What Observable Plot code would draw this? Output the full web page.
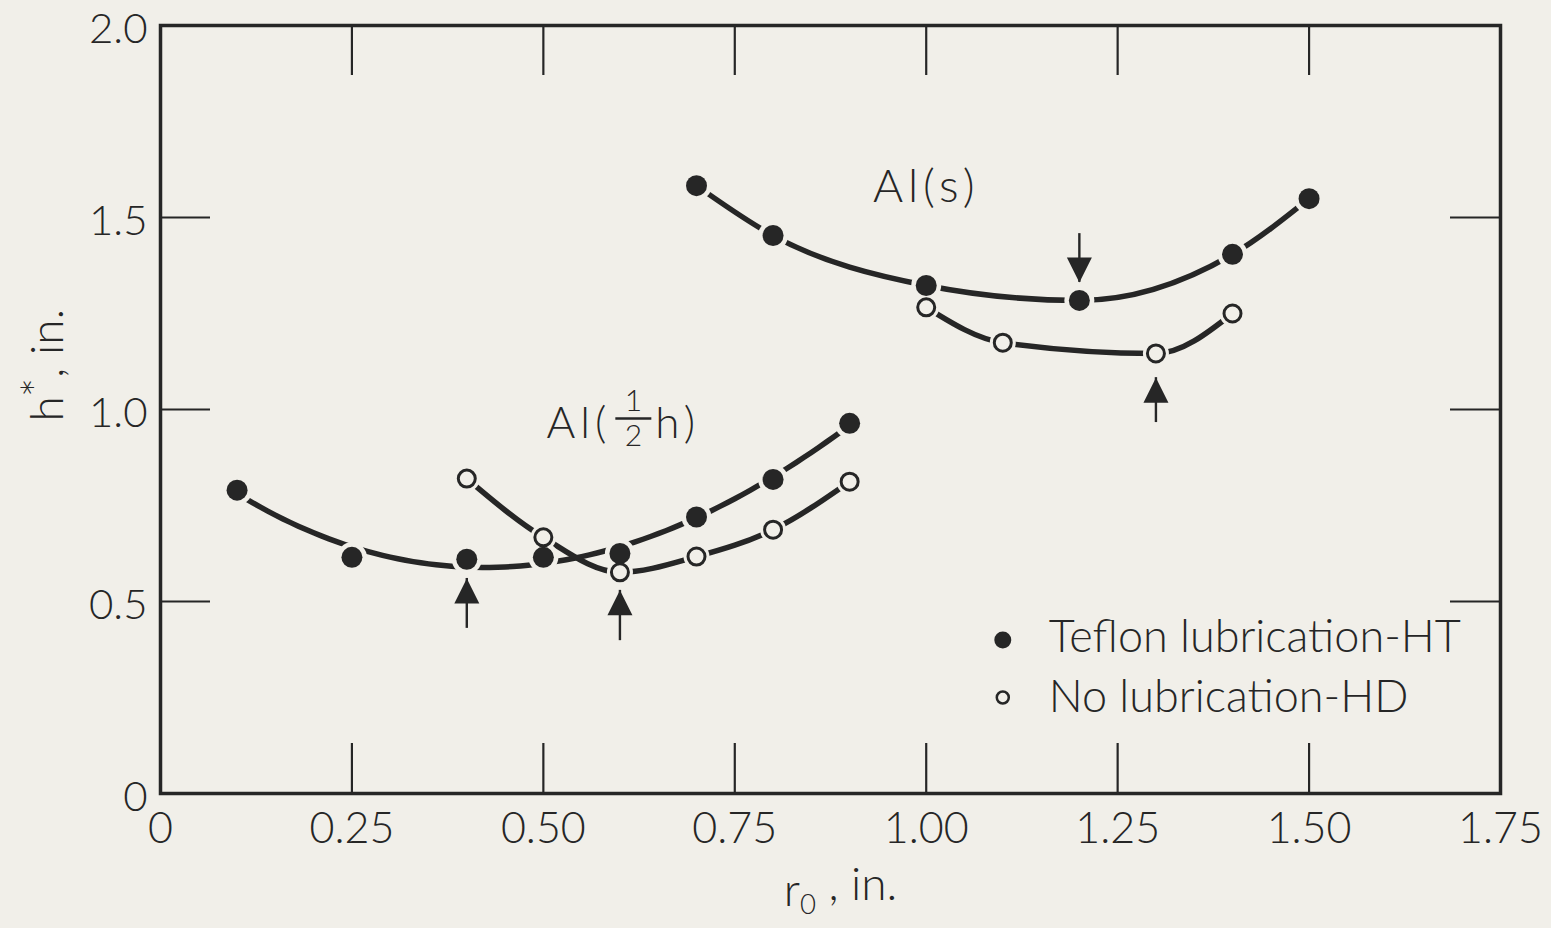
<!DOCTYPE html>
<html>
<head>
<meta charset="utf-8">
<script src="https://cdn.jsdelivr.net/npm/d3@7"></script>
<script src="https://cdn.jsdelivr.net/npm/@observablehq/plot@0.6"></script>
<style>
  html, body { margin: 0; padding: 0; background: #f1efe9; }
  #chart { width: 1551px; height: 928px; }
</style>
</head>
<body>
<div id="chart"></div>
<script>
// h* versus r0 for aluminium, half-hard and soft, with and without lubrication
const halfHardTeflonX = [0.10, 0.25, 0.40, 0.50, 0.60, 0.70, 0.80, 0.90];
const halfHardTeflonY = [0.79, 0.615, 0.61, 0.615, 0.625, 0.72, 0.818, 0.964];
const halfHardDryX = [0.40, 0.50, 0.60, 0.70, 0.80, 0.90];
const halfHardDryY = [0.82, 0.667, 0.576, 0.617, 0.687, 0.812];
const softTeflonX = [0.70, 0.80, 1.00, 1.20, 1.40, 1.50];
const softTeflonY = [1.583, 1.453, 1.323, 1.284, 1.404, 1.549];
const softDryX = [1.00, 1.10, 1.30, 1.40];
const softDryY = [1.266, 1.174, 1.146, 1.25];

// minima marked with arrows (x, arrow tip, arrow tail)
const upArrows = [
  {x: 0.40, tip: 0.56, tail: 0.43},
  {x: 0.60, tip: 0.529, tail: 0.398},
  {x: 1.30, tip: 1.083, tail: 0.966}
];
const downArrows = [
  {x: 1.20, tip: 1.331, tail: 1.458}
];

const xTickValues = [0, 0.25, 0.50, 0.75, 1.00, 1.25, 1.50, 1.75];
const yTickValues = [0, 0.5, 1.0, 1.5, 2.0];
const xInnerTicks = [0.25, 0.50, 0.75, 1.00, 1.25, 1.50];
const yInnerTicks = [0.5, 1.0, 1.5];
const legendItems = ["Teflon lubrication-HT", "No lubrication-HD"];

const bg = "#f1efe9";
const ink = "#262626";

const toPoints = (xs, ys, id) => xs.map((x, i) => ({x, y: ys[i], id}));
const halfHardTeflon = toPoints(halfHardTeflonX, halfHardTeflonY, "a");
const halfHardDry = toPoints(halfHardDryX, halfHardDryY, "b");
const softTeflon = toPoints(softTeflonX, softTeflonY, "c");
const softDry = toPoints(softDryX, softDryY, "d");
const filled = [...halfHardTeflon, ...softTeflon];
const open = [...halfHardDry, ...softDry];

// least-squares cubic for the half-hard lubricated series, whose curve smooths past its points
function polyfit(xs, ys, deg) {
  const n = deg + 1;
  const A = Array.from({length: n}, () => new Array(n).fill(0));
  const b = new Array(n).fill(0);
  xs.forEach((x, k) => {
    for (let i = 0; i < n; i++) {
      b[i] += ys[k] * x ** i;
      for (let j = 0; j < n; j++) A[i][j] += x ** (i + j);
    }
  });
  for (let c = 0; c < n; c++) {
    let p = c;
    for (let r = c + 1; r < n; r++) if (Math.abs(A[r][c]) > Math.abs(A[p][c])) p = r;
    [A[c], A[p]] = [A[p], A[c]];
    [b[c], b[p]] = [b[p], b[c]];
    for (let r = c + 1; r < n; r++) {
      const f = A[r][c] / A[c][c];
      for (let j = c; j < n; j++) A[r][j] -= f * A[c][j];
      b[r] -= f * b[c];
    }
  }
  const coef = new Array(n).fill(0);
  for (let r = n - 1; r >= 0; r--) {
    let s = b[r];
    for (let j = r + 1; j < n; j++) s -= A[r][j] * coef[j];
    coef[r] = s / A[r][r];
  }
  return (x) => coef.reduce((s, c, i) => s + c * x ** i, 0);
}
function fitCurve(xs, ys, deg) {
  const f = polyfit(xs, ys, deg);
  const x0 = d3.min(xs), x1 = d3.max(xs);
  return d3.range(81).map(i => {
    const x = x0 + (x1 - x0) * i / 80;
    return {x, y: f(x)};
  });
}
const halfHardTeflonFit = fitCurve(halfHardTeflonX, halfHardTeflonY, 3);

// filled arrowheads with the apex at the origin
const headUp = {draw(ctx, size) {
  const s = Math.sqrt(size / Math.PI);
  ctx.moveTo(0, 0); ctx.lineTo(s * 0.5, s); ctx.lineTo(-s * 0.5, s); ctx.closePath();
}};
const headDown = {draw(ctx, size) {
  const s = Math.sqrt(size / Math.PI);
  ctx.moveTo(0, 0); ctx.lineTo(s * 0.5, -s); ctx.lineTo(-s * 0.5, -s); ctx.closePath();
}};
// the bar of the stacked fraction
const fractionBar = {draw(ctx, size) {
  const s = Math.sqrt(size / Math.PI);
  ctx.rect(-s, -1.3, 2 * s, 2.6);
}};

const W = 1551, H = 928, mL = 160, mR = 51, mT = 25, mB = 135;
const innerW = W - mL - mR, innerH = H - mT - mB;
const tickLen = 50;
const font = "Lato, 'Open Sans', sans-serif";

const label = {x: 0.6175, y: 0.9635};

const chart = Plot.plot({
  width: W, height: H,
  marginLeft: mL, marginRight: mR, marginTop: mT, marginBottom: mB,
  style: `background: ${bg}; font-family: ${font}; font-weight: 300; color: ${ink};`,
  x: {domain: [0, 1.75]},
  y: {domain: [0, 2]},
  marks: [
    // inward tick marks on all four sides
    Plot.ruleX(xInnerTicks, {x: d => d, insetTop: innerH - tickLen, stroke: ink, strokeWidth: 2.2}),
    Plot.ruleX(xInnerTicks, {x: d => d, insetBottom: innerH - tickLen, stroke: ink, strokeWidth: 2.2}),
    Plot.ruleY(yInnerTicks, {y: d => d, insetRight: innerW - tickLen, stroke: ink, strokeWidth: 2.2}),
    Plot.ruleY(yInnerTicks, {y: d => d, insetLeft: innerW - tickLen, stroke: ink, strokeWidth: 2.2}),
    Plot.frame({stroke: ink, strokeWidth: 3.5}),
    Plot.axisX({ticks: xTickValues, tickFormat: d => d === 0 ? "0" : d.toFixed(2),
      tickSize: 0, tickPadding: 19, fontSize: 43, label: null, fill: ink}),
    Plot.axisY({ticks: yTickValues, tickFormat: d => d === 0 ? "0" : d.toFixed(1),
      tickSize: 0, tickPadding: 13, dy: 4, fontSize: 42, label: null, fill: ink}),

    // curves through the measurements
    Plot.line(halfHardTeflonFit, {x: "x", y: "y", stroke: ink, strokeWidth: 5.5}),
    Plot.line([...halfHardDry, ...softTeflon, ...softDry], {x: "x", y: "y", z: "id", curve: "monotone-x", stroke: ink, strokeWidth: 5.5}),

    // gaps around the markers
    Plot.dot(filled, {x: "x", y: "y", r: 15, fill: bg}),
    Plot.dot(open, {x: "x", y: "y", r: 13, fill: bg}),
    Plot.dot(filled, {x: "x", y: "y", r: 10.5, fill: ink}),
    Plot.dot(open, {x: "x", y: "y", r: 8.5, fill: bg, stroke: ink, strokeWidth: 3}),

    // arrows at the minima
    Plot.ruleX(upArrows, {x: "x", y1: "tail", y2: "tip", stroke: ink, strokeWidth: 2.4}),
    Plot.ruleX(downArrows, {x: "x", y1: "tail", y2: "tip", stroke: ink, strokeWidth: 2.4}),
    Plot.dot(upArrows, {x: "x", y: "tip", symbol: headUp, r: 25, fill: ink}),
    Plot.dot(downArrows, {x: "x", y: "tip", symbol: headDown, r: 25, fill: ink}),

    // material labels
    Plot.text(["Al(s)"], {x: 1.0, y: 1.58, fontSize: 46, fill: ink}),
    Plot.text(["Al("], {...label, textAnchor: "end", dx: -22, fontSize: 44, fill: ink}),
    Plot.text(["1"], {...label, dy: -22, fontSize: 30, fill: ink}),
    Plot.dot([label], {x: "x", y: "y", dy: -5, symbol: fractionBar, r: 18, fill: ink}),
    Plot.text(["2"], {...label, dy: 13, fontSize: 30, fill: ink}),
    Plot.text(["h)"], {...label, textAnchor: "start", dx: 22, fontSize: 44, fill: ink}),

    // legend
    Plot.dot([legendItems[0]], {x: 1.10, y: 0.40, r: 8.5, fill: ink}),
    Plot.dot([legendItems[1]], {x: 1.10, y: 0.25, r: 6, fill: bg, stroke: ink, strokeWidth: 2.5}),
    Plot.text(legendItems, {x: 1.10, y: (d, i) => [0.405, 0.25][i], dx: 46, textAnchor: "start", fontSize: 45, fill: ink}),

    // axis titles
    Plot.text(["r0 , in."], {frameAnchor: "bottom", dx: 10, dy: 112, lineAnchor: "bottom", fontSize: 46, fill: ink}),
    Plot.text(["h*, in."], {frameAnchor: "left", dx: -98, dy: 12, rotate: -90, lineAnchor: "bottom", fontSize: 46, fill: ink})
  ]
});

document.getElementById("chart").appendChild(chart);

// subscript, superscript and spacing in the titles
d3.select(chart).selectAll("text").each(function() {
  const t = d3.select(this);
  const s = t.text();
  if (s === "r0 , in.") {
    t.text("");
    t.append("tspan").text("r");
    t.append("tspan").attr("dy", "0.3em").attr("font-size", "0.6em").text("0");
    t.append("tspan").attr("dy", "-0.3em").text(" , in.");
  } else if (s === "h*, in.") {
    t.text("");
    t.append("tspan").text("h");
    t.append("tspan").attr("dy", "-0.18em").text("*");
    t.append("tspan").attr("dy", "0.18em").text(", in.");
  } else if (s === "Al(s)" || s === "Al(" || s === "h)") {
    t.attr("letter-spacing", "5px");
  }
});
</script>
</body>
</html>
